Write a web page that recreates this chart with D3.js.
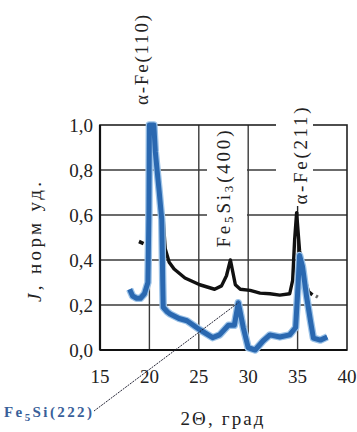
<!DOCTYPE html>
<html>
<head>
<meta charset="utf-8">
<script src="https://cdn.jsdelivr.net/npm/d3@7"></script>
<style>
  body { margin: 0; background: #fff; }
</style>
</head>
<body>
<svg id="chart" width="357" height="432"></svg>
<script>
var SERIF = '"Liberation Serif", "Times New Roman", "DejaVu Serif", serif';

// axis ticks
var xTicks = [15, 20, 25, 30, 35, 40];
var yTicks = [0, 0.2, 0.4, 0.6, 0.8, 1.0];

// blue curve (2Θ, J)
var blueX = [18.0, 18.3, 18.7, 19.1, 19.5, 19.85, 19.95, 20.0, 20.45, 20.6, 21.0, 21.25, 21.35, 21.4, 21.8, 22.1, 23.0, 23.8, 25.1, 26.4, 27.1, 28.0, 28.6, 29.0, 29.5, 30.0, 30.7, 31.5, 32.2, 33.2, 34.2, 34.8, 35.0, 35.2, 35.5, 35.9, 36.3, 36.6, 37.3, 38.0];
var blueY = [0.27, 0.24, 0.23, 0.23, 0.25, 0.30, 0.60, 1.0, 1.0, 0.88, 0.70, 0.58, 0.30, 0.19, 0.17, 0.16, 0.14, 0.13, 0.09, 0.055, 0.067, 0.11, 0.11, 0.21, 0.10, 0.01, 0.0, 0.04, 0.067, 0.058, 0.067, 0.10, 0.25, 0.42, 0.37, 0.24, 0.13, 0.053, 0.044, 0.058];

// black curve
var blackX = [20.5, 21.0, 21.2, 21.4, 21.6, 22.0, 22.5, 23.6, 25.1, 26.6, 27.3, 27.8, 28.2, 28.7, 29.2, 30.2, 31.2, 32.2, 33.2, 34.2, 34.5, 34.7, 34.9, 35.2, 35.7, 36.1, 36.5];
var blackY = [0.95, 0.75, 0.65, 0.58, 0.45, 0.39, 0.36, 0.32, 0.29, 0.27, 0.285, 0.33, 0.40, 0.29, 0.27, 0.265, 0.253, 0.25, 0.244, 0.25, 0.31, 0.49, 0.61, 0.44, 0.32, 0.26, 0.245];
// stray black bits
var blackDotX = [19.1, 19.25];
var blackDotY = [0.47, 0.485];
var blackTailX = [36.85, 37.05];
var blackTailY = [0.24, 0.235];

var svg = d3.select('#chart');
var x = d3.scaleLinear().domain([15, 40]).range([100, 347]);
var y = d3.scaleLinear().domain([0, 1]).range([350, 125]);

function pts(xs, ys) {
	return xs.map(function(v, i) { return [v, ys[i]]; });
}
var line = d3.line().x(function(d) { return x(d[0]); }).y(function(d) { return y(d[1]); });

// grid
var grid = svg.append('g').attr('stroke', '#3a3a3a').attr('stroke-width', 1.4);
grid.selectAll('line.h').data(yTicks.slice(1, -1)).enter().append('line')
	.attr('x1', x(15)).attr('x2', x(40))
	.attr('y1', function(d) { return y(d); }).attr('y2', function(d) { return y(d); });
grid.selectAll('line.v').data(xTicks.slice(1, -1)).enter().append('line')
	.attr('y1', y(0)).attr('y2', y(1))
	.attr('x1', function(d) { return x(d); }).attr('x2', function(d) { return x(d); });

// frame
svg.append('rect')
	.attr('x', x(15)).attr('y', y(1))
	.attr('width', x(40) - x(15)).attr('height', y(0) - y(1))
	.attr('fill', 'none').attr('stroke', '#222').attr('stroke-width', 1.6);
svg.append('line').attr('x1', x(15)).attr('x2', x(15)).attr('y1', y(1)).attr('y2', y(0))
	.attr('stroke', '#111').attr('stroke-width', 2.2);
svg.append('line').attr('x1', x(15)).attr('x2', x(40)).attr('y1', y(0)).attr('y2', y(0))
	.attr('stroke', '#111').attr('stroke-width', 2.2);

// white boxes behind peak labels inside the plot
svg.append('rect').attr('x', 207).attr('y', 127).attr('width', 40).attr('height', 124).attr('fill', '#fff');
svg.append('rect').attr('x', 276).attr('y', 100).attr('width', 37).attr('height', 112).attr('fill', '#fff');
svg.append('line').attr('x1', x(35)).attr('x2', x(35)).attr('y1', 206).attr('y2', 216)
	.attr('stroke', '#222').attr('stroke-width', 1.4);

// black curve
var black = svg.append('g').attr('fill', 'none').attr('stroke', '#111')
	.style('stroke-width', '3.4px').attr('stroke-linejoin', 'round');
black.append('path').attr('d', line(pts(blackX, blackY)));
black.append('path').attr('d', line(pts(blackDotX, blackDotY))).style('stroke-width', '5px');
black.append('path').attr('d', line(pts(blackTailX, blackTailY))).attr('stroke', '#666');

// blue curve
var blueData = pts(blueX, blueY);
svg.append('path').attr('d', line(blueData)).attr('fill', 'none')
	.attr('stroke', '#9cc3e8').attr('stroke-width', 7.5).attr('stroke-linejoin', 'round');
svg.append('path').attr('d', line(blueData)).attr('fill', 'none')
	.attr('stroke', '#2a68b0').attr('stroke-width', 5).attr('stroke-linejoin', 'round');

// tick labels
svg.append('g').selectAll('text').data(yTicks).enter().append('text')
	.style('font-family', SERIF).style('font-size', '19px')
	.attr('x', 93).attr('y', function(d) { return y(d) + 3; })
	.attr('text-anchor', 'end').attr('dominant-baseline', 'middle')
	.attr('fill', '#222')
	.text(function(d) { return d3.format('.1f')(d).replace('.', ','); });
svg.append('g').selectAll('text').data(xTicks).enter().append('text')
	.style('font-family', SERIF).style('font-size', '19px')
	.attr('x', function(d) { return x(d); }).attr('y', 379)
	.attr('text-anchor', 'middle').attr('dominant-baseline', 'middle')
	.attr('fill', '#222')
	.text(function(d) { return d; });

// axis titles
svg.append('text').style('font-family', SERIF).style('font-size', '19px')
	.attr('x', 222).attr('y', 421)
	.attr('text-anchor', 'middle').attr('dominant-baseline', 'middle')
	.attr('fill', '#222')
	.attr('textLength', 83).attr('lengthAdjust', 'spacing')
	.text('2Θ, град');
var yt = svg.append('text').style('font-family', SERIF).style('font-size', '19px')
	.attr('transform', 'translate(37,242) rotate(-90)')
	.attr('text-anchor', 'middle').attr('dominant-baseline', 'middle')
	.attr('fill', '#222')
	.attr('textLength', 120).attr('lengthAdjust', 'spacing');
yt.append('tspan').style('font-style', 'italic').text('J');
yt.append('tspan').text(', норм уд.');

// peak labels
function peakLabel(cx, cy, len) {
	return svg.append('text').style('font-family', SERIF).style('font-size', '19px')
		.attr('transform', 'translate(' + cx + ',' + cy + ') rotate(-90)')
		.attr('text-anchor', 'middle').attr('dominant-baseline', 'middle')
		.attr('fill', '#222')
		.attr('textLength', len).attr('lengthAdjust', 'spacing');
}
peakLabel(144, 60, 90).text('α-Fe(110)');
var fs = peakLabel(226, 189, 117);
fs.append('tspan').text('Fe');
fs.append('tspan').style('font-size', '13px').attr('dy', 4).text('5');
fs.append('tspan').attr('dy', -4).text('Si');
fs.append('tspan').style('font-size', '13px').attr('dy', 4).text('3');
fs.append('tspan').attr('dy', -4).text('(400)');
peakLabel(303, 156, 97).text('α-Fe(211)');

// Fe5Si(222) callout
svg.append('line').attr('x1', 94).attr('y1', 411)
	.attr('x2', x(29.0)).attr('y2', y(0.21))
	.attr('stroke', '#223').attr('stroke-width', 1).attr('stroke-dasharray', '2,1');
var fl = svg.append('text').style('font-family', SERIF).style('font-size', '15px')
	.style('font-weight', 'bold').attr('x', 4).attr('y', 417)
	.attr('fill', '#3a5f9a')
	.attr('textLength', 88).attr('lengthAdjust', 'spacing');
fl.append('tspan').text('Fe');
fl.append('tspan').style('font-size', '11px').attr('dy', 4).text('5');
fl.append('tspan').attr('dy', -4).text('Si(222)');
</script>
</body>
</html>
